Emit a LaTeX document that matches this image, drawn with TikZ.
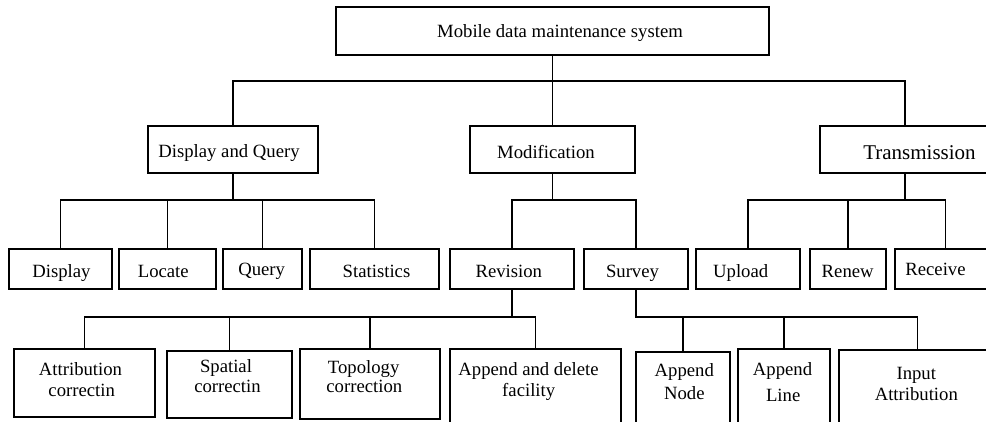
\documentclass[tikz,border=0pt]{standalone}
\usepackage{fontspec}
\setmainfont{Liberation Serif}
\begin{document}
\begin{tikzpicture}[x=1pt,y=-1pt,
  box/.style={draw, line width=1.9pt, inner sep=0pt, outer sep=0pt},
  txt/.style={anchor=base, inner sep=0pt, font=\fontsize{18.7}{22}\selectfont},
  bigtxt/.style={anchor=base, inner sep=0pt, font=\fontsize{21}{25}\selectfont},
  conn/.style={line width=1.9pt}]
\useasboundingbox (0,0) rectangle (986,421);
\begin{scope}
\clip (0,0) rectangle (986,421);
% level 0
\node[box, minimum width=433pt, minimum height=48pt] (root) at (552.5,31) {};
% level 1
\node[box, minimum width=170pt, minimum height=47pt] (dq) at (233,149.5) {};
\node[box, minimum width=165pt, minimum height=47pt] (mod) at (552.5,149.5) {};
\node[box, minimum width=170pt, minimum height=47pt] (tr) at (905,149.5) {};
% level 2
\node[box, minimum width=103pt, minimum height=40pt] (disp) at (60.5,269) {};
\node[box, minimum width=97pt, minimum height=40pt] (loc) at (167.5,269) {};
\node[box, minimum width=79pt, minimum height=40pt] (qry) at (262.5,269) {};
\node[box, minimum width=129pt, minimum height=40pt] (stat) at (374.5,269) {};
\node[box, minimum width=124pt, minimum height=40pt] (rev) at (512,269) {};
\node[box, minimum width=104pt, minimum height=40pt] (sur) at (636,269) {};
\node[box, minimum width=104pt, minimum height=40pt] (upl) at (748,269) {};
\node[box, minimum width=76pt, minimum height=40pt] (ren) at (848,269) {};
\node[box, minimum width=101pt, minimum height=40pt] (rec) at (945.5,269) {};
% level 3
\node[box, minimum width=141pt, minimum height=68pt] (attr) at (84.5,383) {};
\node[box, minimum width=125pt, minimum height=67pt] (spa) at (229.5,384.5) {};
\node[box, minimum width=140pt, minimum height=70pt] (topo) at (370,384) {};
\node[box, minimum width=171pt, minimum height=86pt] (apd) at (535.5,392) {};
\node[box, minimum width=94pt, minimum height=83pt] (apn) at (683,393.5) {};
\node[box, minimum width=92pt, minimum height=86pt] (apl) at (784,392) {};
\node[box, minimum width=157pt, minimum height=85pt] (inp) at (917.5,392.5) {};
% texts
\node[txt] (t-root) at (560,37.3) {Mobile data maintenance system};
\node[txt] (t-dq) at (229,157.7) {Display and Query};
\node[txt] (t-mod) at (546,158.3) {Modification};
\node[bigtxt] (t-tr) at (919.5,159.3) {Transmission};
\node[txt] (t-disp) at (61.5,277.3) {Display};
\node[txt] (t-loc) at (163.3,277.3) {Locate};
\node[txt] (t-qry) at (261.7,275) {Query};
\node[txt] (t-stat) at (376.5,277.5) {Statistics};
\node[txt] (t-rev) at (508.8,277.3) {Revision};
\node[txt] (t-sur) at (632.5,277.3) {Survey};
\node[txt] (t-upl) at (740.7,277.3) {Upload};
\node[txt] (t-ren) at (847.7,277.3) {Renew};
\node[txt] (t-rec) at (935.5,275) {Receive};
\node[txt] (t-attr1) at (80.5,375) {Attribution};
\node[txt] (t-attr2) at (81.7,396.7) {correctin};
\node[txt] (t-spa1) at (226,372.7) {Spatial};
\node[txt] (t-spa2) at (227.5,392.7) {correctin};
\node[txt] (t-topo1) at (363.7,373.3) {Topology};
\node[txt] (t-topo2) at (364.3,392.7) {correction};
\node[txt] (t-apd1) at (528.5,375) {Append and delete};
\node[txt] (t-apd2) at (528.7,396.7) {facility};
\node[txt] (t-apn1) at (684.3,376.7) {Append};
\node[txt] (t-apn2) at (684.3,399) {Node};
\node[txt] (t-apl1) at (782.5,375) {Append};
\node[txt] (t-apl2) at (783.2,401) {Line};
\node[txt] (t-inp1) at (916.3,379.3) {Input};
\node[txt] (t-inp2) at (916.3,400) {Attribution};
% junction levels
\coordinate (j1) at (552.5,81);
\coordinate (j2) at (0,200);
\coordinate (j3) at (0,317.3);
% connectors level 0-1
\draw[conn] (root.south) -- (j1);
\draw[conn] (dq.north) -- (dq.north |- j1) -- (tr.north |- j1) -- (tr.north);
\draw[conn] (j1) -- (mod.north);
% Display and Query
\draw[conn] (dq.south) -- (dq.south |- j2);
\draw[conn] (disp.north) -- (disp.north |- j2) -- (stat.north |- j2) -- (stat.north);
\draw[conn] (loc.north) -- (loc.north |- j2);
\draw[conn] (qry.north) -- (qry.north |- j2);
% Modification
\draw[conn] (mod.south) -- (mod.south |- j2);
\draw[conn] (rev.north) -- (rev.north |- j2) -- (sur.north |- j2) -- (sur.north);
% Transmission
\draw[conn] (tr.south) -- (tr.south |- j2);
\draw[conn] (upl.north) -- (upl.north |- j2) -- (rec.north |- j2) -- (rec.north);
\draw[conn] (ren.north) -- (ren.north |- j2);
% Revision
\draw[conn] (rev.south) -- (rev.south |- j3);
\draw[conn] (attr.north) -- (attr.north |- j3) -- (apd.north |- j3) -- (apd.north);
\draw[conn] (spa.north) -- (spa.north |- j3);
\draw[conn] (topo.north) -- (topo.north |- j3);
% Survey
\draw[conn] (sur.south) -- (sur.south |- j3) -- (inp.north |- j3) -- (inp.north);
\draw[conn] (apn.north) -- (apn.north |- j3);
\draw[conn] (apl.north) -- (apl.north |- j3);
\end{scope}
\end{tikzpicture}
\end{document}
